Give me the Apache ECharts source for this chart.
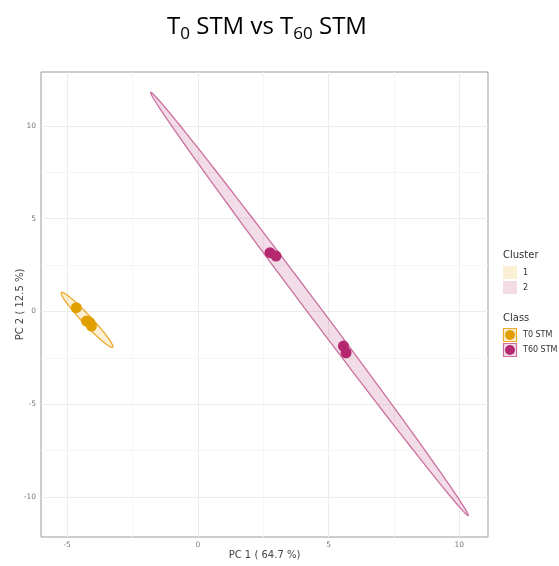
<!DOCTYPE html>
<html><head><meta charset="utf-8">
<script src="https://cdn.jsdelivr.net/npm/echarts@6/dist/echarts.min.js"></script>
<style>html,body{margin:0;padding:0;background:#fff}#c{width:559px;height:566px}</style>
</head><body><div id="c"></div>
<script>
// Data
const t0Points = [[-4.65, 0.20], [-4.26, -0.52], [-4.14, -0.59], [-4.07, -0.79]];
const t60Points = [[2.76, 3.16], [2.99, 2.98], [5.57, -1.87], [5.67, -2.23]];
// ellipse: center, major half-axis vector, minor half-length (data units)
const ellipseCenters = [[-4.24, -0.46], [4.27, 0.40]];
const ellipseMajor = [[0.975, -1.48], [6.07, -11.40]];
const ellipseMinor = [0.20, 0.27];
const xTicks = [-5, 0, 5, 10];
const yTicks = [-10, -5, 0, 5, 10];
const xMinor = [-2.5, 2.5, 7.5];
const yMinor = [-7.5, -2.5, 2.5, 7.5];
const clusterNames = ['1', '2'];
const classNames = ['T0 STM', 'T60 STM'];

const fills = ['rgba(230,159,0,0.17)', 'rgba(179,40,111,0.165)'];
const swatchFills = ['#FBEFD4', '#F2DDE7'];
const strokes = ['#EDA92A', '#CC6FA0'];
const dotColors = ['#E29F00', '#B3286F'];

const chart = echarts.init(document.getElementById('c'));

function ellipseRender(params, api) {
  const i = params.dataIndex;
  const c = ellipseCenters[i], u = ellipseMajor[i], b = ellipseMinor[i];
  const len = Math.hypot(u[0], u[1]);
  const n = [-u[1] / len, u[0] / len];
  const pts = [];
  for (let k = 0; k < 120; k++) {
    const t = k / 120 * Math.PI * 2;
    const ct = Math.cos(t), st = Math.sin(t);
    pts.push(api.coord([c[0] + ct * u[0] + st * b * n[0], c[1] + ct * u[1] + st * b * n[1]]));
  }
  return { type: 'polygon', shape: { points: pts },
    style: { fill: fills[i], stroke: strokes[i], lineWidth: 1.3 } };
}

const gl = (v, major) => ({ lineStyle: { color: major ? '#ECECEC' : '#F5F5F5', width: 1, type: 'solid' } });
const mlData = []
  .concat(xTicks.map(v => ({ xAxis: v, ...gl(v, true) })))
  .concat(xMinor.map(v => ({ xAxis: v, ...gl(v, false) })))
  .concat(yTicks.map(v => ({ yAxis: v, ...gl(v, true) })))
  .concat(yMinor.map(v => ({ yAxis: v, ...gl(v, false) })));

const lx = 503;
const graphic = [
  { type: 'text', left: lx, top: 250, style: { text: 'Cluster', fontSize: 10, fill: '#333', fontFamily: 'DejaVu Sans' } },
  { type: 'text', left: lx, top: 313, style: { text: 'Class', fontSize: 10, fill: '#333', fontFamily: 'DejaVu Sans' } },
];
clusterNames.forEach((nm, i) => {
  const y = 266 + i * 15;
  graphic.push({ type: 'rect', shape: { x: lx, y: y, width: 14, height: 13 }, style: { fill: swatchFills[i] } });
  graphic.push({ type: 'text', x: lx + 20, y: y + 7, style: { text: nm, fontSize: 8, fill: '#333', fontFamily: 'DejaVu Sans', verticalAlign: 'middle' } });
});
classNames.forEach((nm, i) => {
  const y = 328 + i * 15;
  graphic.push({ type: 'rect', shape: { x: lx + 0.5, y: y + 0.5, width: 13, height: 13 }, style: { fill: swatchFills[i], stroke: strokes[i], lineWidth: 1.2 } });
  graphic.push({ type: 'circle', shape: { cx: lx + 7, cy: y + 7, r: 5 }, style: { fill: dotColors[i] } });
  graphic.push({ type: 'text', x: lx + 20, y: y + 7, style: { text: nm, fontSize: 8, fill: '#333', fontFamily: 'DejaVu Sans', verticalAlign: 'middle' } });
});

chart.setOption({
  animation: false,
  title: {
    text: '{a|T}{s|0}{a| STM vs T}{s|60}{a| STM}',
    left: 262, top: 6, textAlign: 'center',
    textStyle: {
      fontWeight: 'normal',
      rich: {
        a: { fontSize: 24, fontFamily: 'Open Sans', fontWeight: 'normal', color: '#000', lineHeight: 32 },
        s: { fontSize: 17, fontFamily: 'Open Sans', fontWeight: 'normal', color: '#000', lineHeight: 17, verticalAlign: 'bottom' }
      }
    }
  },
  grid: { left: 41, top: 72, width: 447, height: 465, containLabel: false, outerBoundsMode: 'none', show: true, borderColor: '#9a9a9a', borderWidth: 1, backgroundColor: '#fff' },
  xAxis: {
    type: 'value', min: -6, max: 11.1,
    name: 'PC 1 ( 64.7 %)', nameLocation: 'middle', nameGap: 13, nameMoveOverlap: false,
    nameTextStyle: { fontSize: 10, color: '#444', fontFamily: 'DejaVu Sans' },
    axisLine: { show: false },
    axisTick: { show: true, length: 3, customValues: xTicks, lineStyle: { color: '#888' } },
    axisLabel: { customValues: xTicks, fontSize: 7.5, color: '#777', margin: 4, fontFamily: 'DejaVu Sans' },
    splitLine: { show: false }
  },
  yAxis: {
    type: 'value', min: -12.16, max: 12.9,
    name: 'PC 2 ( 12.5 %)', nameLocation: 'middle', nameGap: 16, nameMoveOverlap: false,
    nameTextStyle: { fontSize: 10, color: '#444', fontFamily: 'DejaVu Sans' },
    axisLine: { show: false },
    axisTick: { show: true, length: 3, customValues: yTicks, lineStyle: { color: '#888' } },
    axisLabel: { customValues: yTicks, fontSize: 7.5, color: '#777', margin: 5, fontFamily: 'DejaVu Sans' },
    splitLine: { show: false }
  },
  graphic: graphic,
  series: [
    { type: 'scatter', data: [], z: 0, silent: true,
      markLine: { silent: true, symbol: 'none', label: { show: false }, animation: false, data: mlData } },
    { type: 'custom', renderItem: ellipseRender, data: [[0], [1]], z: 10, silent: true },
    { type: 'scatter', data: t0Points, symbolSize: 11, itemStyle: { color: dotColors[0], opacity: 1 }, z: 12 },
    { type: 'scatter', data: t60Points, symbolSize: 11, itemStyle: { color: dotColors[1], opacity: 1 }, z: 12 }
  ]
});
</script></body></html>
